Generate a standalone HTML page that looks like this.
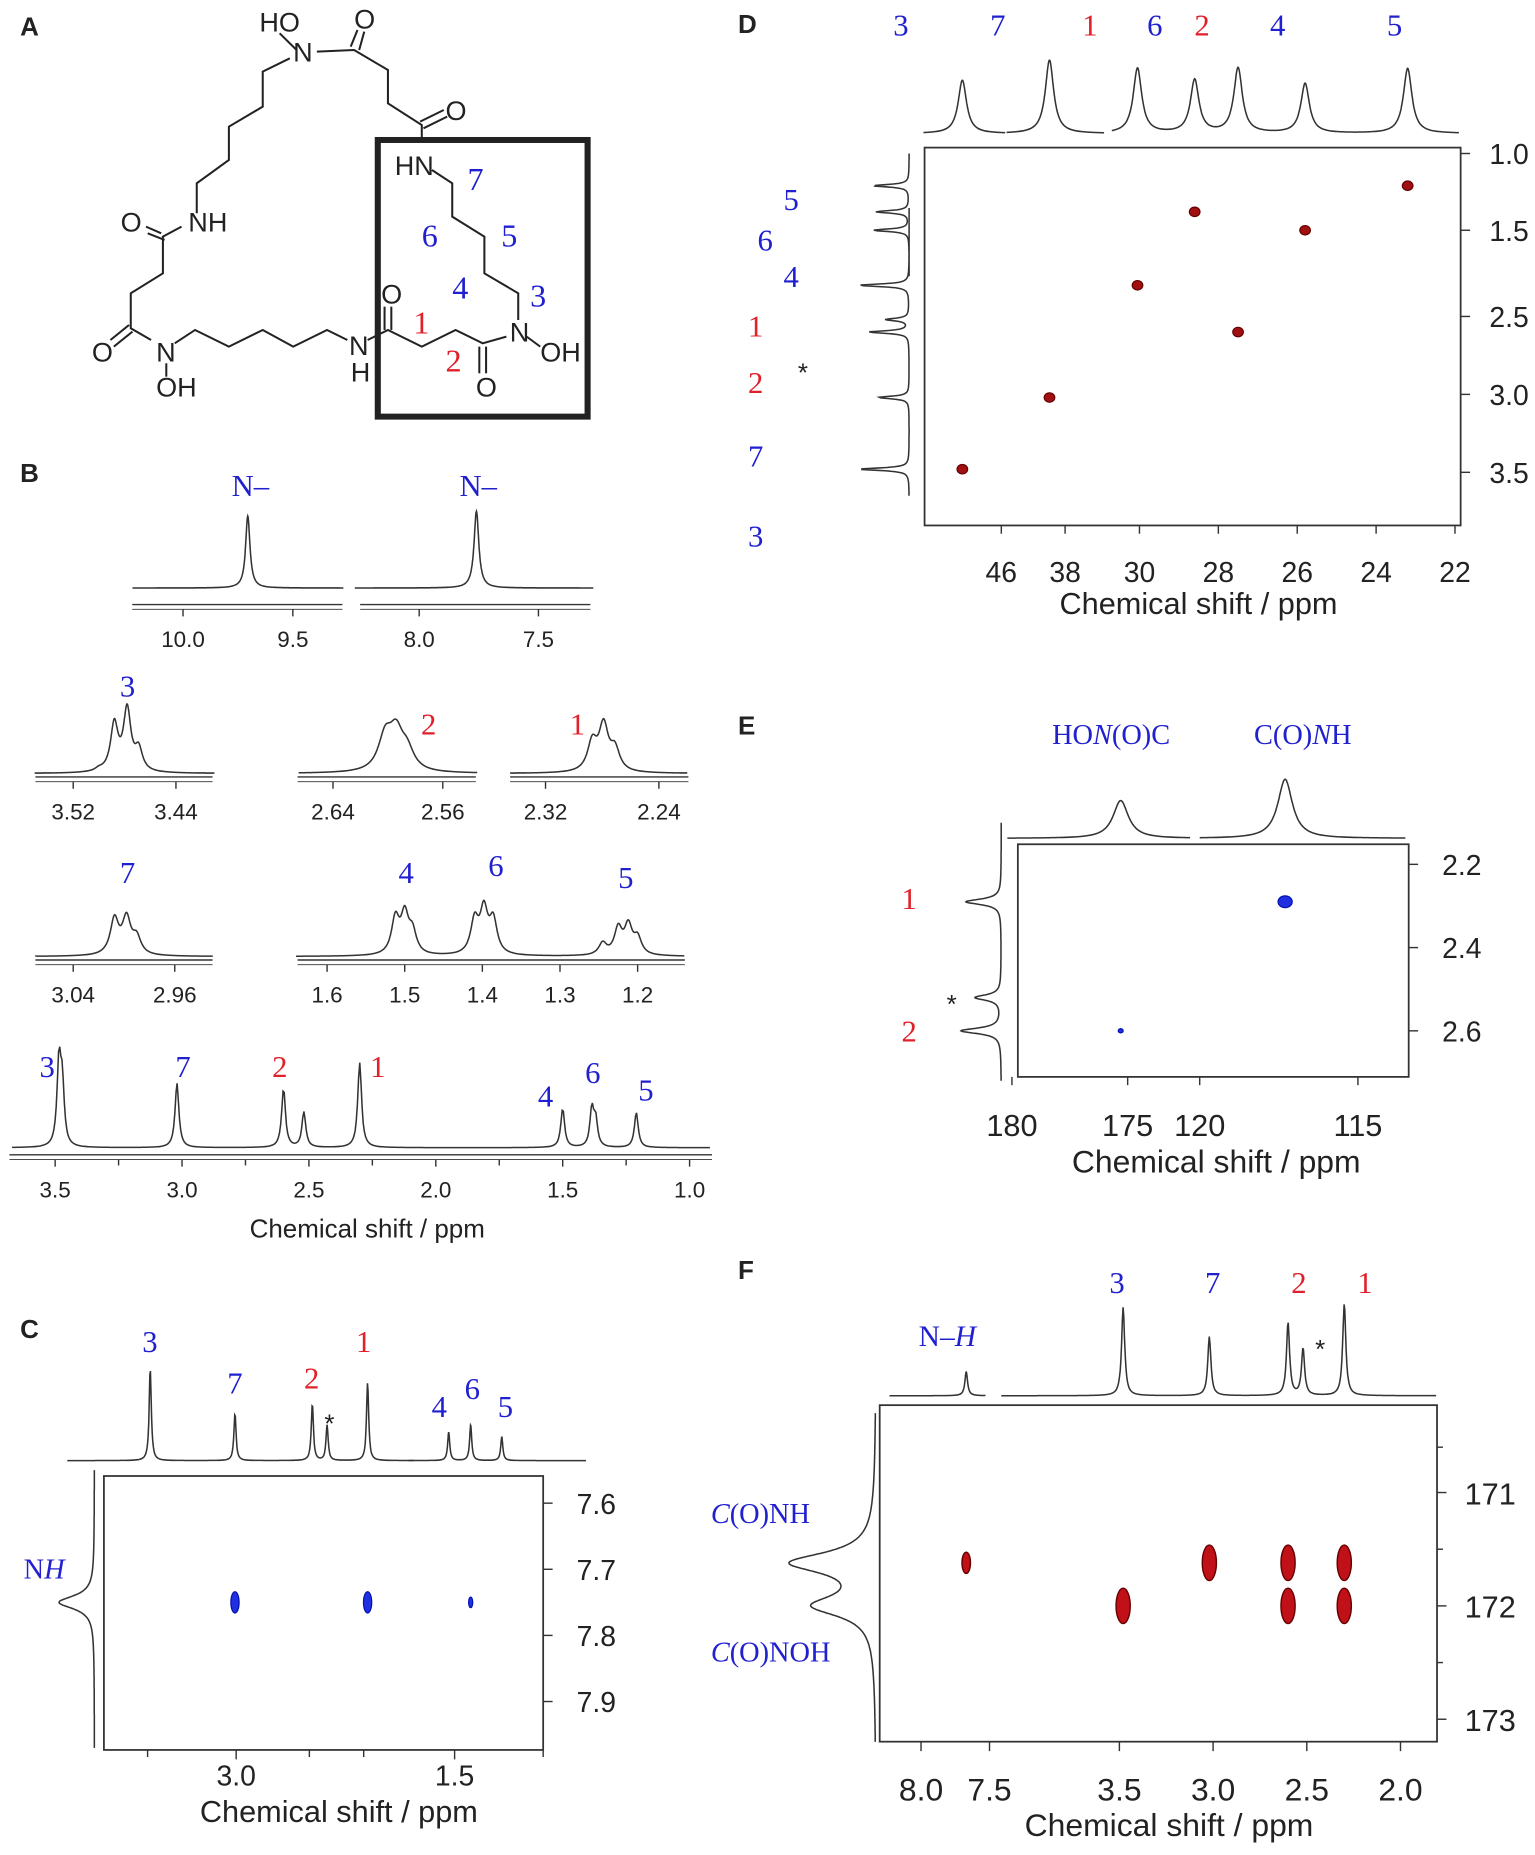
<!DOCTYPE html>
<html><head><meta charset="utf-8"><style>
html,body{margin:0;padding:0;background:#fff;}
svg{display:block;}
.t{font-family:"Liberation Sans",sans-serif;fill:#222;}
.s{font-family:"Liberation Serif",serif;}
.b{fill:#2020d0;}.r{fill:#e0202a;}
</style></head><body>
<svg id="fig" width="1535" height="1855" viewBox="0 0 1535 1855" xmlns="http://www.w3.org/2000/svg">
<g id="struct" transform="translate(80,0) scale(0.3384,0.3333)" fill="none" stroke="#222" stroke-width="6">
 <polyline points="620,175 540,215 540,320 440,380 440,480 345,550 345,640"/>
 <line x1="590" y1="100" x2="640" y2="150"/>
 <polyline points="700,155 810,150 910,210 910,310 1010,375 1010,420"/>
 <line x1="800" y1="140" x2="820" y2="90"/><line x1="825" y1="150" x2="840" y2="95"/>
 <line x1="1005" y1="365" x2="1075" y2="330"/><line x1="1015" y1="385" x2="1085" y2="350"/>
 <polyline points="1040,510 1100,550 1100,650 1195,710 1195,820 1295,880 1295,960"/>
 <polyline points="1260,1010 1190,1030 1110,990 1010,1040 910,990 850,1020"/>
 <line x1="1180" y1="1040" x2="1180" y2="1120"/><line x1="1200" y1="1040" x2="1200" y2="1120"/>
 <line x1="900" y1="990" x2="900" y2="920"/><line x1="920" y1="990" x2="920" y2="920"/>
 <line x1="1320" y1="1010" x2="1360" y2="1040"/>
 <polyline points="790,1020 730,990 630,1040 540,990 440,1040 340,990 280,1030"/>
 <line x1="255" y1="1090" x2="255" y2="1130"/>
 <polyline points="210,1020 150,985 150,880 245,820 245,710 300,680"/>
 <line x1="145" y1="975" x2="90" y2="1020"/><line x1="155" y1="995" x2="100" y2="1040"/>
 <line x1="240" y1="700" x2="195" y2="680"/><line x1="250" y1="720" x2="200" y2="700"/>
 <rect x="880" y="420" width="620" height="830" stroke-width="18"/>
</g>
<g id="stxt" transform="translate(80,0) scale(0.3384,0.3333)" font-size="80">
 <text class="t" x="530" y="95">HO</text><text class="t" x="630" y="185">N</text>
 <text class="t" x="810" y="85">O</text><text class="t" x="1080" y="360">O</text>
 <text class="t" x="930" y="525">HN</text><text class="t" x="320" y="695">NH</text>
 <text class="t" x="120" y="695">O</text><text class="t" x="35" y="1085">O</text>
 <text class="t" x="225" y="1085">N</text><text class="t" x="225" y="1190">OH</text>
 <text class="t" x="795" y="1065">N</text><text class="t" x="800" y="1145">H</text>
 <text class="t" x="890" y="910">O</text><text class="t" x="1170" y="1190">O</text>
 <text class="t" x="1270" y="1025">N</text><text class="t" x="1360" y="1085">OH</text>
 <g class="s" font-size="95"><text class="b" x="1145" y="570">7</text><text class="b" x="1010" y="740">6</text><text class="b" x="1245" y="740">5</text><text class="b" x="1100" y="895">4</text><text class="b" x="1330" y="920">3</text><text class="r" x="985" y="1000">1</text><text class="r" x="1080" y="1115">2</text></g>
</g>
<g id="main" transform="scale(1.1808)"></g>
</svg>
<script>
// ---- data arrays ----
const bTopLeftPeaks=[9.705];const bTopLeftHeights=[61];
const bTopRightPeaks=[7.76];const bTopRightHeights=[65];
const b3Peaks=[3.488,3.478,3.469,3.5];const b3Heights=[40,52,18,2];
const b2Peaks=[2.602,2.594,2.586];const b2Heights=[28,30,16];
const b1Peaks=[2.287,2.279,2.271];const b1Heights=[24,38,18];
const b7Peaks=[3.0075,2.998,2.99];const b7Heights=[30,30,14];
const bMidPeaks=[1.512,1.500,1.490,1.41,1.398,1.386,1.245,1.225,1.212,1.200];
const bMidHeights=[30,32,18,28,36,28,10,22,24,14];
const bFullPeaks=[3.485,3.472,3.02,2.60,2.52,2.30,1.50,1.385,1.37,1.21];
const bFullHeights=[70,50,55,50,30,72,33,32,22,30];
const cTopPeaks=[3.48,3.02,2.60,2.52,2.30,1.50,1.38,1.21];
const cTopHeights=[78,40,48,30,66,24,30,20];
const cCrossH=[3.02,2.30,1.38];const cCrossN=[7.75,7.75,7.75];const cCrossSize=[1,1,0.5];
const cLeftPeaks=[7.75];const cLeftHeights=[30];
const dTopPeaks=[47.0,38.4,30.05,28.6,27.5,25.8,23.2];const dTopHeights=[45,62,55,45,55,42,55];
const dCrossC=[47.0,38.4,30.05,28.6,27.5,25.8,23.2];const dCrossH=[3.48,3.02,2.30,1.38,2.60,1.50,1.21];
const dLeftPeaks=[1.21,1.38,1.50,2.30,2.52,2.60,3.02,3.48];const dLeftHeights=[30,28,30,42,20,34,26,42];
const eTopPeaks=[175.3,117.3];const eTopHeights=[32,50];
const eCrossC=[117.3,175.3];const eCrossH=[2.29,2.60];const eCrossSize=[1,0.35];
const eLeftPeaks=[2.29,2.52,2.60];const eLeftHeights=[30,22,34];
const fTopPeaks=[7.67,3.48,3.02,2.60,2.52,2.30];const fTopHeights=[20,75,50,62,40,78];
const fCrossH=[7.67,3.48,3.02,2.60,2.60,2.30,2.30];const fCrossN=[171.62,172.0,171.62,171.62,172.0,171.62,172.0];const fCrossSize=[0.6,1,1,1,1,1,1];
const fLeftPeaks=[171.62,172.0];const fLeftHeights=[70,50];

const NS='http://www.w3.org/2000/svg';
const root=document.getElementById('main');
function mk(tag,attrs,name){const el=document.createElementNS(NS,tag);for(const k in attrs)el.setAttribute(k,attrs[k]);


root.appendChild(el);return el;}
function txt(x,y,s,name,cls,size,anchor,style){const el=mk('text',{x:x,y:y,'font-size':size||19,'text-anchor':anchor||'middle',class:cls||'t'},name);if(style)el.setAttribute('font-style',style);el.textContent=s;return el;}
// rich text: parts = [[string, italic?],...]
function rich(x,y,parts,name,size,anchor){const el=mk('text',{x:x,y:y,'font-size':size||24,'text-anchor':anchor||'start',class:'s b'},name);
parts.forEach(p=>{const ts=document.createElementNS(NS,'tspan');if(p[1])ts.setAttribute('font-style','italic');ts.textContent=p[0];el.appendChild(ts);});return el;}
function line(x1,y1,x2,y2,name,w){return mk('line',{x1:x1,y1:y1,x2:x2,y2:y2,stroke:'#333','stroke-width':w||1.2},name);}
function lor(p,pk,h,w){let s=0;for(let i=0;i<pk.length;i++){const d=p-pk[i];s+=h[i]*w*w/(d*d+w*w);}return s;}
function lin(p0,x0,p1,x1){return p=>x0+(p-p0)*(x1-x0)/(p1-p0);}
function hspec(xf,a,b,pk,h,w,base,name){let d='';const n=600;for(let i=0;i<=n;i++){const p=a+(b-a)*i/n;d+=(i?'L':'M')+xf(p).toFixed(1)+' '+(base-lor(p,pk,h,w)).toFixed(1);}
return mk('path',{d:d,fill:'none',stroke:'#333','stroke-width':1.3},name);}
function vspec(yf,a,b,pk,h,w,base,name){let d='';const n=600;for(let i=0;i<=n;i++){const p=a+(b-a)*i/n;d+=(i?'L':'M')+(base-lor(p,pk,h,w)).toFixed(1)+' '+yf(p).toFixed(1);}
return mk('path',{d:d,fill:'none',stroke:'#333','stroke-width':1.3},name);}
function haxis(xf,ticks,labels,y,x0,x1,name){line(x0,y,x1,y,name+'-line');line(x0,y+4,x1,y+4,name+'-line2',0.8);
ticks.forEach((t,i)=>{line(xf(t),y+4,xf(t),y+10,name+'-tick');txt(xf(t),y+36,labels[i],name+'-label');});}
function label(x,y,s,cls,name,size){return txt(x,y,s,name,'s '+cls,size||26);}

// panel letters
[['A',17,30],['B',17,408],['C',17,1133],['D',625,28],['E',625,622],['F',625,1083]].forEach(l=>{const e=txt(l[1],l[2],l[0],'panel-letter-'+l[0].toLowerCase(),'t',22,'start');e.setAttribute('font-weight','bold');});

// ---- B ----
const bxL=lin(10,155,9.5,248), bxR=lin(8,355,7.5,456);
hspec(bxL,10.23,9.27,bTopLeftPeaks,bTopLeftHeights,0.012,498,'b-top-spectrum-left');
hspec(bxR,8.27,7.27,bTopRightPeaks,bTopRightHeights,0.012,498,'b-top-spectrum-right');
haxis(bxL,[10,9.5],['10.0','9.5'],512,112,290,'b-top-axis-left');
haxis(bxR,[8,7.5],['8.0','7.5'],512,305,500,'b-top-axis-right');
label(212,420,'N–','b','b-label-n1');label(405,420,'N–','b','b-label-n2');
const b3x=lin(3.52,62,3.44,149),b2x=lin(2.64,282,2.56,375),b1x=lin(2.32,462,2.24,558);
hspec(b3x,3.55,3.41,b3Peaks,b3Heights,0.0035,655,'b-peak3-spectrum');haxis(b3x,[3.52,3.44],['3.52','3.44'],658,30,180,'b-peak3-axis');
hspec(b2x,2.665,2.535,b2Peaks,b2Heights,0.006,655,'b-peak2-spectrum');haxis(b2x,[2.64,2.56],['2.64','2.56'],658,252,403,'b-peak2-axis');
hspec(b1x,2.345,2.22,b1Peaks,b1Heights,0.004,655,'b-peak1-spectrum');haxis(b1x,[2.32,2.24],['2.32','2.24'],658,432,583,'b-peak1-axis');
label(108,590,'3','b','b-label-3');label(363,622,'2','r','b-label-2');label(489,622,'1','r','b-label-1');
const b7x=lin(3.04,62,2.96,148),bmx=lin(1.6,277,1.2,540);
hspec(b7x,3.07,2.93,b7Peaks,b7Heights,0.004,810,'b-peak7-spectrum');haxis(b7x,[3.04,2.96],['3.04','2.96'],813,30,180,'b-peak7-axis');
hspec(bmx,1.64,1.14,bMidPeaks,bMidHeights,0.006,810,'b-peak456-spectrum');haxis(bmx,[1.6,1.5,1.4,1.3,1.2],['1.6','1.5','1.4','1.3','1.2'],813,252,580,'b-peak456-axis');
label(108,748,'7','b','b-label-7');label(344,748,'4','b','b-label-4');label(420,742,'6','b','b-label-6');label(530,752,'5','b','b-label-5');
const bfx=lin(3.5,46.7,1.0,584);
hspec(bfx,3.67,0.92,bFullPeaks,bFullHeights,0.009,972,'b-full-spectrum');
haxis(bfx,[3.5,3.0,2.5,2.0,1.5,1.0],['3.5','3.0','2.5','2.0','1.5','1.0'],978,8,603,'b-full-axis');
line(bfx(3.25),982,bfx(3.25),987,'b-minor');line(bfx(2.75),982,bfx(2.75),987,'b-minor');line(bfx(2.25),982,bfx(2.25),987,'b-minor');line(bfx(1.75),982,bfx(1.75),987,'b-minor');line(bfx(1.25),982,bfx(1.25),987,'b-minor');
txt(311,1048,'Chemical shift / ppm','b-x-axis-title','t',22);
[['3',40,912,'b'],['7',155,912,'b'],['2',237,912,'r'],['1',320,912,'r'],['4',462,937,'b'],['6',502,917,'b'],['5',547,932,'b']].forEach(a=>label(a[1],a[2],a[0],a[3],'b-full-label-'+a[0]));

// ---- C ----
const cTop=p=>p>1.9?199+(3.02-p)*156:380+(1.5-p)*155;
hspec(cTop,3.93,2.05,cTopPeaks,cTopHeights,0.007,1237,'c-top-spectrum-a');
hspec(cTop,1.72,0.75,cTopPeaks,cTopHeights,0.007,1237,'c-top-spectrum-b');
mk('rect',{x:88,y:1250,width:372,height:232,fill:'none',stroke:'#333','stroke-width':1.5},'c-plot-frame');
const cy=lin(7.6,1273,7.9,1441);
[7.6,7.7,7.8,7.9].forEach((v,i)=>{line(460,cy(v),468,cy(v),'c-y-tick');txt(505,cy(v)+9,['7.6','7.7','7.8','7.9'][i],'c-y-label','t',24);});
const cbx=lin(3.0,200,1.5,385);
[3.0,1.5].forEach((v,i)=>{line(cbx(v),1482,cbx(v),1490,'c-x-tick');txt(cbx(v),1512,['3.0','1.5'][i],'c-x-label','t',24);});
[125,262,308,460].forEach(x=>line(x,1482,x,1488,'c-x-minor'));
txt(287,1543,'Chemical shift / ppm','c-x-axis-title','t',26);
cCrossH.forEach((h,i)=>{mk('ellipse',{cx:cTop(h),cy:cy(cCrossN[i]),rx:3.5*cCrossSize[i],ry:9*cCrossSize[i],fill:'#2030e0',stroke:'#0010b0','stroke-width':1},'c-cross-peak');});
vspec(cy,7.55,7.97,cLeftPeaks,cLeftHeights,0.012,80,'c-left-projection');
rich(20,1337,[['N',0],['H',1]],'c-label-nh',24);
[['3',127,1145,'b'],['7',199,1180,'b'],['2',264,1176,'r'],['1',308,1145,'r'],['4',372,1200,'b'],['6',400,1185,'b'],['5',428,1200,'b']].forEach(a=>label(a[1],a[2],a[0],a[3],'c-label-'+a[0]));
txt(279,1213,'*','c-star','t',22);

// ---- D ----
const dx=p=>p>=40?848+(46-p)*33:(p>=34?902+(38-p)*33:965+(30-p)*33.4);
const dy=p=>p<1.8?130+(p-1)*130:268+(p-2.5)*132;
hspec(dx,48.0,45.9,dTopPeaks,dTopHeights,0.13,113,'d-top-spectrum-a');
hspec(dx,39.5,37.0,dTopPeaks,dTopHeights,0.13,113,'d-top-spectrum-b');
hspec(dx,30.7,21.9,dTopPeaks,dTopHeights,0.13,113,'d-top-spectrum-c');
mk('rect',{x:783,y:125,width:454,height:320,fill:'none',stroke:'#333','stroke-width':1.5},'d-plot-frame');
[[1.0,'1.0'],[1.5,'1.5'],[2.5,'2.5'],[3.0,'3.0'],[3.5,'3.5']].forEach(t=>{line(1237,dy(t[0]),1245,dy(t[0]),'d-y-tick');txt(1278,dy(t[0])+9,t[1],'d-y-label','t',24);});
[[46,'46'],[38,'38'],[30,'30'],[28,'28'],[26,'26'],[24,'24'],[22,'22']].forEach(t=>{line(dx(t[0]),445,dx(t[0]),452,'d-x-tick');txt(dx(t[0]),493,t[1],'d-x-label','t',24);});
txt(1015,520,'Chemical shift / ppm','d-x-axis-title','t',26);
dCrossC.forEach((c,i)=>{mk('ellipse',{cx:dx(c),cy:dy(dCrossH[i]),rx:4.5,ry:4,fill:'#a01010',stroke:'#600','stroke-width':1},'d-cross-peak');});
vspec(dy,1.0,3.65,dLeftPeaks,dLeftHeights,0.01,770,'d-left-projection');
[['3',763,'b'],['7',845,'b'],['1',923,'r'],['6',978,'b'],['2',1018,'r'],['4',1082,'b'],['5',1181,'b']].forEach(a=>label(a[1],30,a[0],a[2],'d-top-label-'+a[0]));
[['5',670,178,'b'],['6',648,212,'b'],['4',670,243,'b'],['1',640,285,'r'],['2',640,333,'r'],['7',640,395,'b'],['3',640,463,'b']].forEach(a=>label(a[1],a[2],a[0],a[3],'d-left-label-'+a[0]));
txt(680,323,'*','d-star','t',22);

// ---- E ----
const ex=p=>p>150?857+(180-p)*19.6:1016+(120-p)*26.8;
const ey=lin(2.2,732,2.6,873);
hspec(ex,180.2,172.3,eTopPeaks,eTopHeights,0.4,710,'e-top-spectrum-a');
hspec(ex,120.0,113.5,eTopPeaks,eTopHeights,0.28,710,'e-top-spectrum-b');
mk('rect',{x:862,y:715,width:331,height:197,fill:'none',stroke:'#333','stroke-width':1.5},'e-plot-frame');
[[2.2,'2.2'],[2.4,'2.4'],[2.6,'2.6']].forEach(t=>{line(1193,ey(t[0]),1201,ey(t[0]),'e-y-tick');txt(1238,ey(t[0])+9,t[1],'e-y-label','t',24);});
[[180,'180'],[175,'175'],[120,'120'],[115,'115']].forEach(t=>{line(ex(t[0]),912,ex(t[0]),919,'e-x-tick');txt(ex(t[0]),962,t[1],'e-x-label','t',26);});
txt(1030,993,'Chemical shift / ppm','e-x-axis-title','t',27);
eCrossC.forEach((c,i)=>{mk('ellipse',{cx:ex(c),cy:ey(eCrossH[i]),rx:6*eCrossSize[i],ry:5*eCrossSize[i],fill:'#2030e0',stroke:'#0010b0','stroke-width':1},'e-cross-peak');});
vspec(ey,2.1,2.72,eLeftPeaks,eLeftHeights,0.008,848,'e-left-projection');
rich(891,630,[['HO',0],['N',1],['(O)C',0]],'e-label-hon',24);
rich(1062,630,[['C(O)',0],['N',1],['H',0]],'e-label-conh',24);
label(770,770,'1','r','e-left-label-1');label(770,882,'2','r','e-left-label-2');txt(806,858,'*','e-star','t',22);

// ---- F ----
const fx=p=>p>5?780+(8-p)*116:948+(3.5-p)*158.7;
const fy=lin(171,1264,173,1456);
hspec(fx,8.23,7.53,fTopPeaks,fTopHeights,0.012,1182,'f-top-spectrum-a');
hspec(fx,4.13,1.81,fTopPeaks,fTopHeights,0.01,1182,'f-top-spectrum-b');
mk('rect',{x:745,y:1190,width:472,height:285,fill:'none',stroke:'#333','stroke-width':1.5},'f-plot-frame');
[[171,'171'],[172,'172'],[173,'173']].forEach(t=>{line(1217,fy(t[0]),1225,fy(t[0]),'f-y-tick');txt(1262,fy(t[0])+10,t[1],'f-y-label','t',26);});
[170.6,171.5,172.5].forEach(v=>line(1217,fy(v),1222,fy(v),'f-y-minor'));
[[8.0,'8.0'],[7.5,'7.5'],[3.5,'3.5'],[3.0,'3.0'],[2.5,'2.5'],[2.0,'2.0']].forEach(t=>{line(fx(t[0]),1475,fx(t[0]),1483,'f-x-tick');txt(fx(t[0]),1525,t[1],'f-x-label','t',27);});
txt(990,1555,'Chemical shift / ppm','f-x-axis-title','t',27);
fCrossH.forEach((h,i)=>{mk('ellipse',{cx:fx(h),cy:fy(fCrossN[i]),rx:6*fCrossSize[i],ry:15*fCrossSize[i],fill:'#c01018',stroke:'#600','stroke-width':1.2},'f-cross-peak');});
vspec(fy,170.3,173.2,fLeftPeaks,fLeftHeights,0.11,742,'f-left-projection');
rich(602,1290,[['C',1],['(O)NH',0]],'f-label-conh',24);
rich(602,1407,[['C',1],['(O)NOH',0]],'f-label-conoh',24);
rich(778,1140,[['N–',0],['H',1]],'f-label-nh',25);
[['3',946,'b'],['7',1027,'b'],['2',1100,'r'],['1',1156,'r']].forEach(a=>label(a[1],1095,a[0],a[2],'f-top-label-'+a[0]));
txt(1118,1150,'*','f-star','t',22);
</script>
</body></html>
